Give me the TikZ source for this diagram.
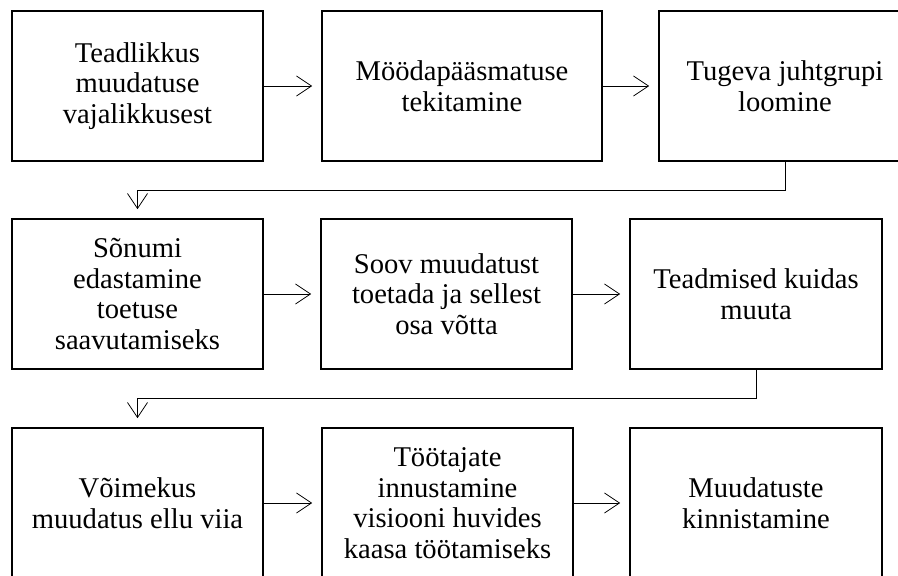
\documentclass[tikz,border=0pt]{standalone}
\usepackage{fontspec}
\setmainfont{Liberation Serif}
\usetikzlibrary{arrows.meta}
\begin{document}
\begin{tikzpicture}[x=1pt,y=-1pt,
  box/.style={draw, line width=1.6pt, rectangle, minimum height=150pt, align=center, inner sep=0pt,
    font=\fontsize{28.6}{30.5}\selectfont},
  arr/.style={line width=0.8pt, -{Straight Barb[length=15pt,width=20pt,line width=0.8pt]}, shorten >=9pt},
  link/.style={line width=0.8pt}]
\useasboundingbox (0,0) rectangle (898,576);
\node[box, minimum width=251pt] (b1) at (137.5,86) {Teadlikkus\\muudatuse\\vajalikkusest};
\node[box, minimum width=280pt] (b2) at (462,86) {Möödapääsmatuse\\tekitamine};
\node[box, minimum width=252pt] (b3) at (785,86) {Tugeva juhtgrupi\\loomine};
\node[box, minimum width=251pt] (b4) at (137.5,294) {Sõnumi\\edastamine\\toetuse\\saavutamiseks};
\node[box, minimum width=251pt] (b5) at (446.5,294) {Soov muudatust\\toetada ja sellest\\osa võtta};
\node[box, minimum width=252pt] (b6) at (756,294) {Teadmised kuidas\\muuta};
\node[box, minimum width=251pt] (b7) at (137.5,503) {Võimekus\\muudatus ellu viia};
\node[box, minimum width=251pt] (b8) at (447.5,503) {Töötajate\\innustamine\\visiooni huvides\\kaasa töötamiseks};
\node[box, minimum width=252pt] (b9) at (756,503) {Muudatuste\\kinnistamine};
\draw[arr] (b1) -- (b2);
\draw[arr] (b2) -- (b3);
\draw[arr] (b4) -- (b5);
\draw[arr] (b5) -- (b6);
\draw[arr] (b7) -- (b8);
\draw[arr] (b8) -- (b9);
\coordinate (c1) at (785,190);
\coordinate (c2) at (756,398);
\draw[arr] (b3.south) -- (c1) -| (b4.north);
\draw[arr] (b6.south) -- (c2) -| (b7.north);
\end{tikzpicture}
\end{document}
